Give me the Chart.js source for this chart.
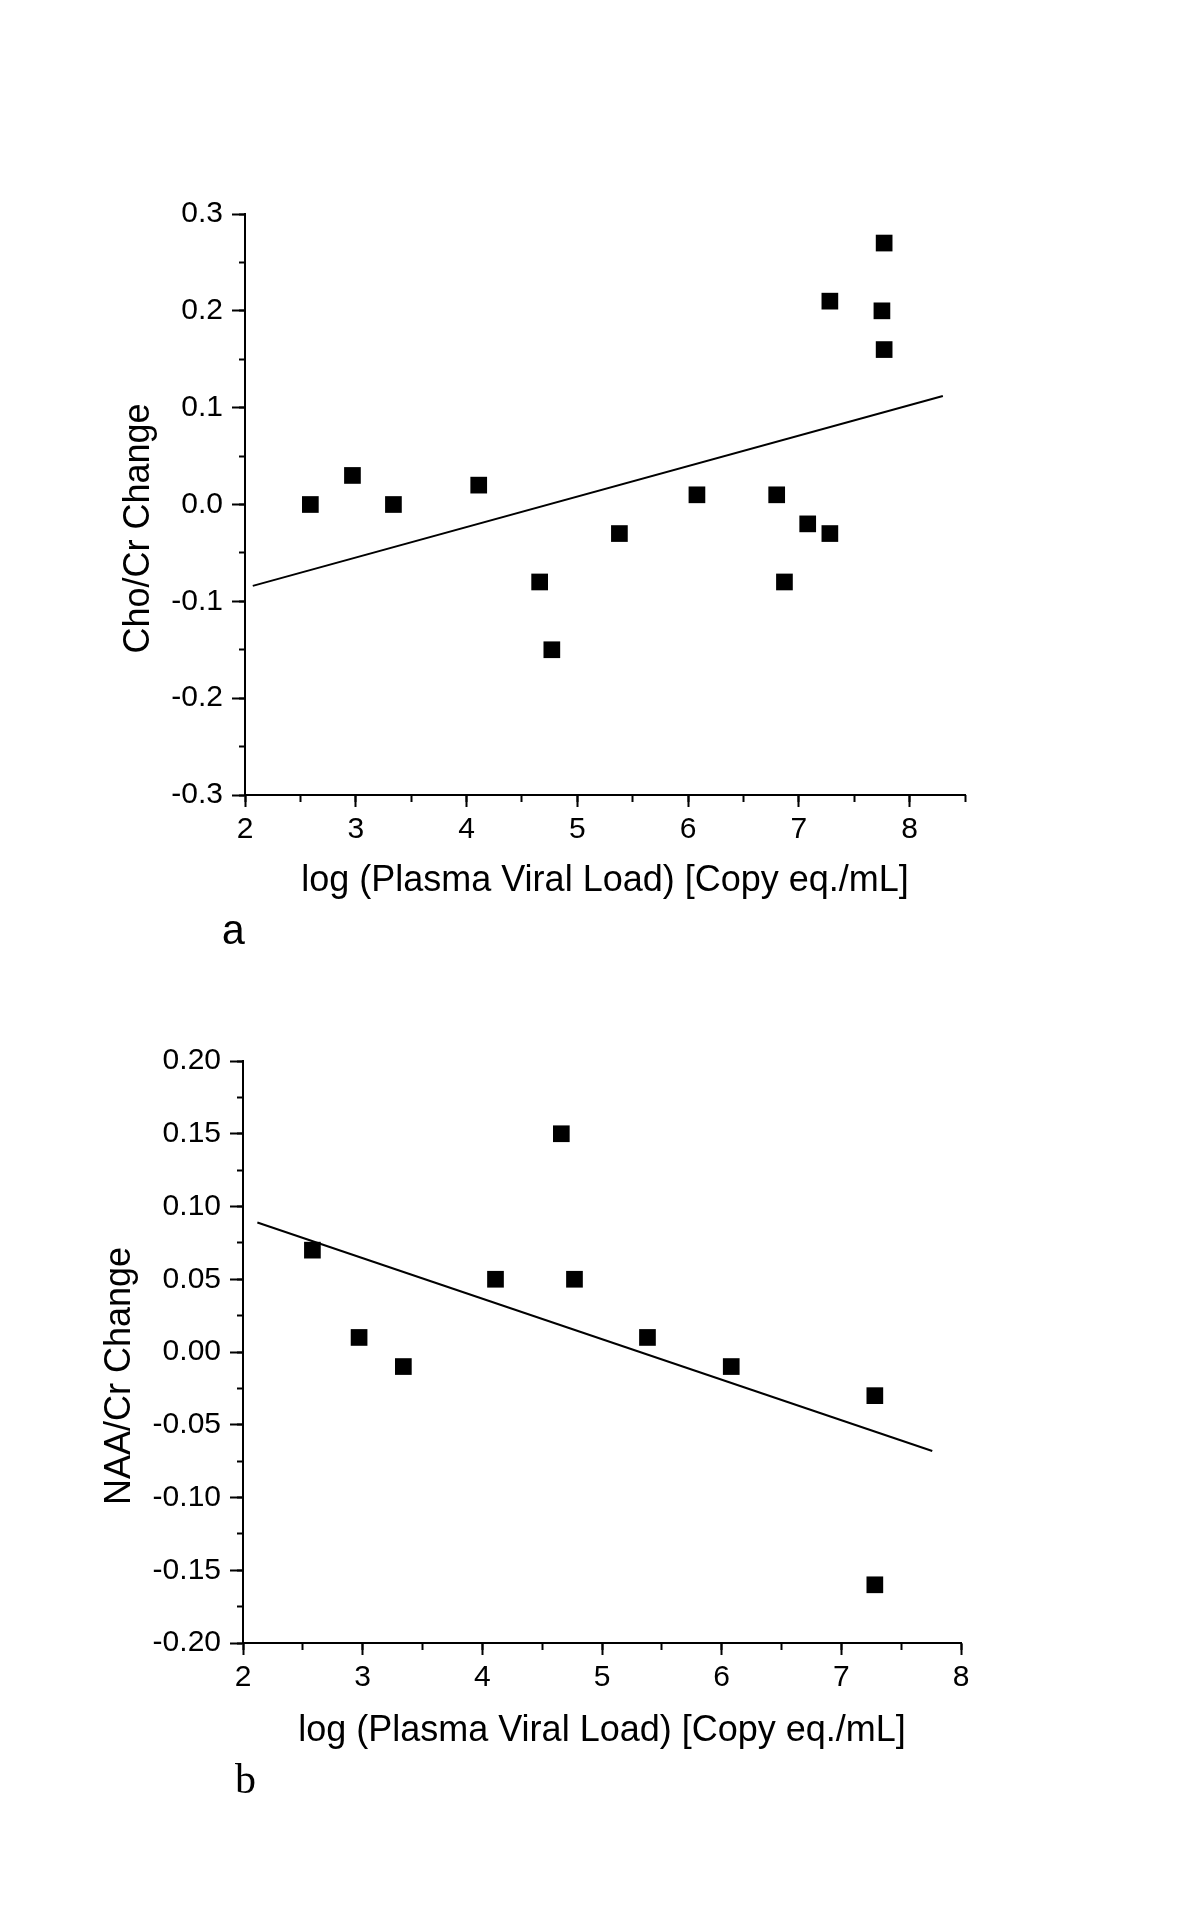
<!DOCTYPE html>
<html>
<head>
<meta charset="utf-8">
<title>Plasma viral load vs metabolite change</title>
<script src="https://cdn.jsdelivr.net/npm/chart.js@4.4.1/dist/chart.umd.min.js"></script>
<style>
  body { margin: 0; background: #fff; }
  #page { position: relative; width: 1200px; height: 1920px; background: #fff; }
  .box { position: absolute; left: 0; width: 1200px; height: 960px; }
  .panel { position: absolute; font-size: 42px; line-height: 42px; color: #000; }
</style>
</head>
<body>
<div id="page">
  <div class="box" style="top:0"><canvas id="chartA"></canvas></div>
  <div class="box" style="top:960px"><canvas id="chartB"></canvas></div>
  <div class="panel" style="left:221px;top:912px;font-family:'Liberation Mono',monospace">a</div>
  <div class="panel" style="left:235px;top:1758px;font-family:'Liberation Serif',serif">b</div>
</div>
<script>
// panel a - Cho/Cr change
var loadA = [2.59, 2.97, 3.34, 4.11, 4.66, 4.77, 5.38, 6.08, 6.80, 6.87, 7.08, 7.28, 7.28, 7.75, 7.77, 7.77];
var choCr = [0.00, 0.03, 0.00, 0.02, -0.08, -0.15, -0.03, 0.01, 0.01, -0.08, -0.02, -0.03, 0.21, 0.20, 0.27, 0.16];
var fitLoadA = [2.07, 8.30];
var fitChoCr = [-0.084, 0.112];
var xTicksA = [2, 3, 4, 5, 6, 7, 8];
var yTicksA = [-0.3, -0.2, -0.1, 0.0, 0.1, 0.2, 0.3];

// panel b - NAA/Cr change
var loadB = [2.58, 2.97, 3.34, 4.11, 4.66, 4.77, 5.38, 6.08, 7.28, 7.28];
var naaCr = [0.07, 0.01, -0.01, 0.05, 0.15, 0.05, 0.01, -0.01, -0.03, -0.16];
var fitLoadB = [2.12, 7.76];
var fitNaaCr = [0.089, -0.068];
var xTicksB = [2, 3, 4, 5, 6, 7, 8];
var yTicksB = [-0.20, -0.15, -0.10, -0.05, 0.00, 0.05, 0.10, 0.15, 0.20];

var axisTitle = 'log (Plasma Viral Load) [Copy eq./mL]';

function pairs(xs, ys) {
  return xs.map(function (x, i) { return { x: x, y: ys[i] }; });
}

// y title sits a bit below the middle of the axis in the original, so draw it here
var sideTitle = {
  id: 'sideTitle',
  afterDraw: function (chart, args, opts) {
    var ctx = chart.ctx;
    var area = chart.chartArea;
    ctx.save();
    ctx.translate(opts.x, (area.top + area.bottom) / 2 + opts.shift);
    ctx.rotate(-Math.PI / 2);
    ctx.font = '36px "Liberation Sans"';
    ctx.fillStyle = '#000';
    ctx.textAlign = 'center';
    ctx.textBaseline = 'middle';
    ctx.fillText(opts.text, 0, 0);
    ctx.restore();
  }
};

function makeChart(id, s) {
  var ctx = document.getElementById(id).getContext('2d');
  return new Chart(ctx, {
    type: 'scatter',
    plugins: [sideTitle],
    data: {
      datasets: [
        {
          data: pairs(s.xs, s.ys),
          pointStyle: 'rect',
          pointRadius: 11.8,
          pointHoverRadius: 11.8,
          pointBorderWidth: 0,
          backgroundColor: '#000',
          borderColor: '#000',
          order: 0
        },
        {
          data: pairs(s.fitX, s.fitY),
          showLine: true,
          borderColor: '#000',
          borderWidth: 2,
          pointRadius: 0,
          fill: false,
          order: 1
        }
      ]
    },
    options: {
      responsive: true,
      maintainAspectRatio: false,
      animation: false,
      events: [],
      layout: { padding: { top: s.area.top, right: 1200 - s.area.right, left: 0, bottom: 0 } },
      plugins: {
        legend: { display: false },
        tooltip: { enabled: false },
        sideTitle: { text: s.yTitle, x: s.yTitleX, shift: 24 }
      },
      scales: {
        x: {
          type: 'linear', position: 'bottom', weight: 0,
          min: s.xMin, max: s.xMax,
          afterBuildTicks: function (scale) {
            scale.ticks = s.xTicks.map(function (v) { return { value: v }; });
          },
          afterFit: function (scale) { scale.height = 960 - s.area.bottom; },
          ticks: {
            color: '#000', padding: 5, maxRotation: 0,
            font: { family: 'Liberation Sans', size: 30 },
            callback: function (v) { return String(v); }
          },
          grid: { drawOnChartArea: false, tickLength: 12, tickWidth: 2, tickColor: '#000' },
          border: { display: true, color: '#000', width: 2 },
          title: {
            display: true, text: axisTitle, color: '#000',
            font: { family: 'Liberation Sans', size: 36 },
            padding: { top: 0, bottom: s.xTitlePad }
          }
        },
        xMinor: {
          type: 'linear', position: 'bottom', weight: -1,
          min: s.xMin, max: s.xMax,
          ticks: { display: false, stepSize: 0.5, maxTicksLimit: 100 },
          afterFit: function (scale) { scale.height = 0; },
          grid: { drawOnChartArea: false, tickLength: 7, tickWidth: 2, tickColor: '#000' },
          border: { display: false }
        },
        y: {
          type: 'linear', position: 'left', weight: 0,
          min: s.yMin, max: s.yMax,
          afterBuildTicks: function (scale) {
            scale.ticks = s.yTicks.map(function (v) { return { value: v }; });
          },
          afterFit: function (scale) { scale.width = s.area.left; },
          ticks: {
            color: '#000', padding: 9,
            font: { family: 'Liberation Sans', size: 30 },
            callback: function (v) { return Number(v).toFixed(s.yDigits); }
          },
          grid: { drawOnChartArea: false, tickLength: 13, tickWidth: 2, tickColor: '#000' },
          border: { display: true, color: '#000', width: 2 }
        },
        yMinor: {
          type: 'linear', position: 'left', weight: -1,
          min: s.yMin, max: s.yMax,
          ticks: { display: false, stepSize: s.yMinorStep, maxTicksLimit: 100 },
          afterFit: function (scale) { scale.width = 0; },
          grid: { drawOnChartArea: false, tickLength: 6, tickWidth: 2, tickColor: '#000' },
          border: { display: false }
        }
      }
    }
  });
}

var chartA = makeChart('chartA', {
  xs: loadA, ys: choCr, fitX: fitLoadA, fitY: fitChoCr,
  xMin: 2, xMax: 8.5, yMin: -0.3, yMax: 0.3,
  xTicks: xTicksA, yTicks: yTicksA, yDigits: 1, yMinorStep: 0.05,
  yTitle: 'Cho/Cr Change', yTitleX: 139,
  area: { left: 245, top: 214, right: 965, bottom: 795 },
  xTitlePad: 57
});

var chartB = makeChart('chartB', {
  xs: loadB, ys: naaCr, fitX: fitLoadB, fitY: fitNaaCr,
  xMin: 2, xMax: 8, yMin: -0.2, yMax: 0.2,
  xTicks: xTicksB, yTicks: yTicksB, yDigits: 2, yMinorStep: 0.025,
  yTitle: 'NAA/Cr Change', yTitleX: 120,
  area: { left: 243, top: 101, right: 961, bottom: 683 },
  xTitlePad: 167
});
</script>
</body>
</html>
